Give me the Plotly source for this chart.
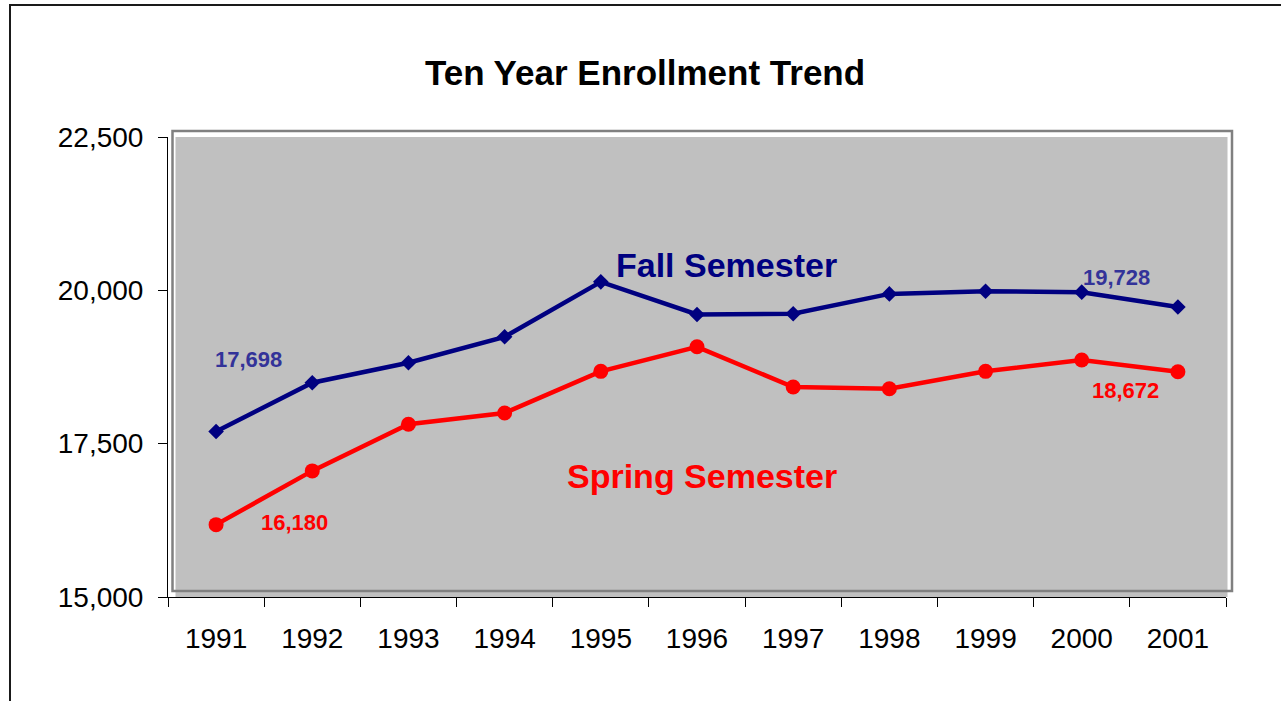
import plotly.graph_objects as go

# Enrollment headcounts by academic year
years = ["1991", "1992", "1993", "1994", "1995", "1996",
         "1997", "1998", "1999", "2000", "2001"]
fall = [17698, 18493, 18819, 19242, 20138, 19607,
        19617, 19942, 19986, 19970, 19728]
spring = [16180, 17056, 17816, 18000, 18679, 19079,
          18423, 18396, 18679, 18863, 18672]
y_ticks = [15000, 17500, 20000, 22500]

FONT = "Liberation Sans, Arial, sans-serif"
NAVY = "#000080"
RED = "#FF0000"
FALL_LABEL = "#333399"

W, H = 1281, 701
L, R, T, B = 168, 55, 137, 104
PW, PH = W - L - R, H - T - B


def px(x):
    return (x - L) / PW


def py(y):
    return (H - B - y) / PH


fig = go.Figure()

fig.add_trace(go.Scatter(
    x=years, y=fall, mode="lines+markers", name="Fall Semester",
    line=dict(color=NAVY, width=4.5),
    marker=dict(symbol="diamond", size=12, color=NAVY),
    hoverinfo="x+y",
))
fig.add_trace(go.Scatter(
    x=years, y=spring, mode="lines+markers", name="Spring Semester",
    line=dict(color=RED, width=4.5),
    marker=dict(symbol="circle", size=15, color=RED),
    hoverinfo="x+y",
))

shapes = [
    # outer chart border
    dict(type="rect", xref="paper", yref="paper",
         x0=px(10), x1=px(1300), y0=py(720), y1=py(5),
         line=dict(color="#1a1a1a", width=2), fillcolor="rgba(0,0,0,0)",
         layer="below"),
    # grey plot-area fill
    dict(type="rect", xref="paper", yref="paper",
         x0=px(175.5), x1=px(1227.5), y0=py(597), y1=py(137),
         line=dict(width=0), fillcolor="#C0C0C0", layer="below"),
    # plot-area frame
    dict(type="rect", xref="paper", yref="paper",
         x0=px(172.5), x1=px(1232), y0=py(591), y1=py(131),
         line=dict(color="#808080", width=2.5), fillcolor="rgba(0,0,0,0)",
         layer="below"),
]

annotations = [
    dict(text="<b>Fall Semester</b>", x=px(726.5), y=py(265),
         font=dict(family=FONT, size=34, color=NAVY)),
    dict(text="<b>Spring Semester</b>", x=px(701.5), y=py(476),
         font=dict(family=FONT, size=34, color=RED)),
    dict(text=f"<b>{fall[0]:,}</b>", x=px(248), y=py(359),
         font=dict(family=FONT, size=22, color=FALL_LABEL)),
    dict(text=f"<b>{spring[0]:,}</b>", x=px(294), y=py(522),
         font=dict(family=FONT, size=22, color=RED)),
    dict(text=f"<b>{fall[-1]:,}</b>", x=px(1116), y=py(277),
         font=dict(family=FONT, size=22, color=FALL_LABEL)),
    dict(text=f"<b>{spring[-1]:,}</b>", x=px(1125), y=py(390),
         font=dict(family=FONT, size=22, color=RED)),
]
for a in annotations:
    a.update(xref="paper", yref="paper", showarrow=False,
             xanchor="center", yanchor="middle")

fig.update_layout(
    width=W, height=H,
    margin=dict(l=L, r=R, t=T, b=B, pad=0),
    paper_bgcolor="white",
    plot_bgcolor="rgba(0,0,0,0)",
    showlegend=False,
    title=dict(text="<b>Ten Year Enrollment Trend</b>",
               x=645 / W, y=1 - 73 / H, xanchor="center", yanchor="middle",
               font=dict(family=FONT, size=35, color="black")),
    shapes=shapes,
    annotations=annotations,
    xaxis=dict(
        type="category", tickson="boundaries",
        range=[-0.5, len(years) - 0.5],
        showgrid=False, zeroline=False,
        showline=True, linecolor="black", linewidth=1,
        ticks="outside", ticklen=9, tickcolor="black", tickwidth=1,
        tickfont=dict(family=FONT, size=28, color="black"),
        ticklabelstandoff=16,
        fixedrange=True,
    ),
    yaxis=dict(
        range=[15000, 22500],
        tickvals=y_ticks, tickformat=",",
        showgrid=False, zeroline=False,
        showline=True, linecolor="black", linewidth=1,
        ticks="outside", ticklen=9, tickcolor="black", tickwidth=1,
        tickfont=dict(family=FONT, size=28, color="black"),
        ticklabelstandoff=9,
        fixedrange=True,
    ),
)

fig.write_html("out.html")
